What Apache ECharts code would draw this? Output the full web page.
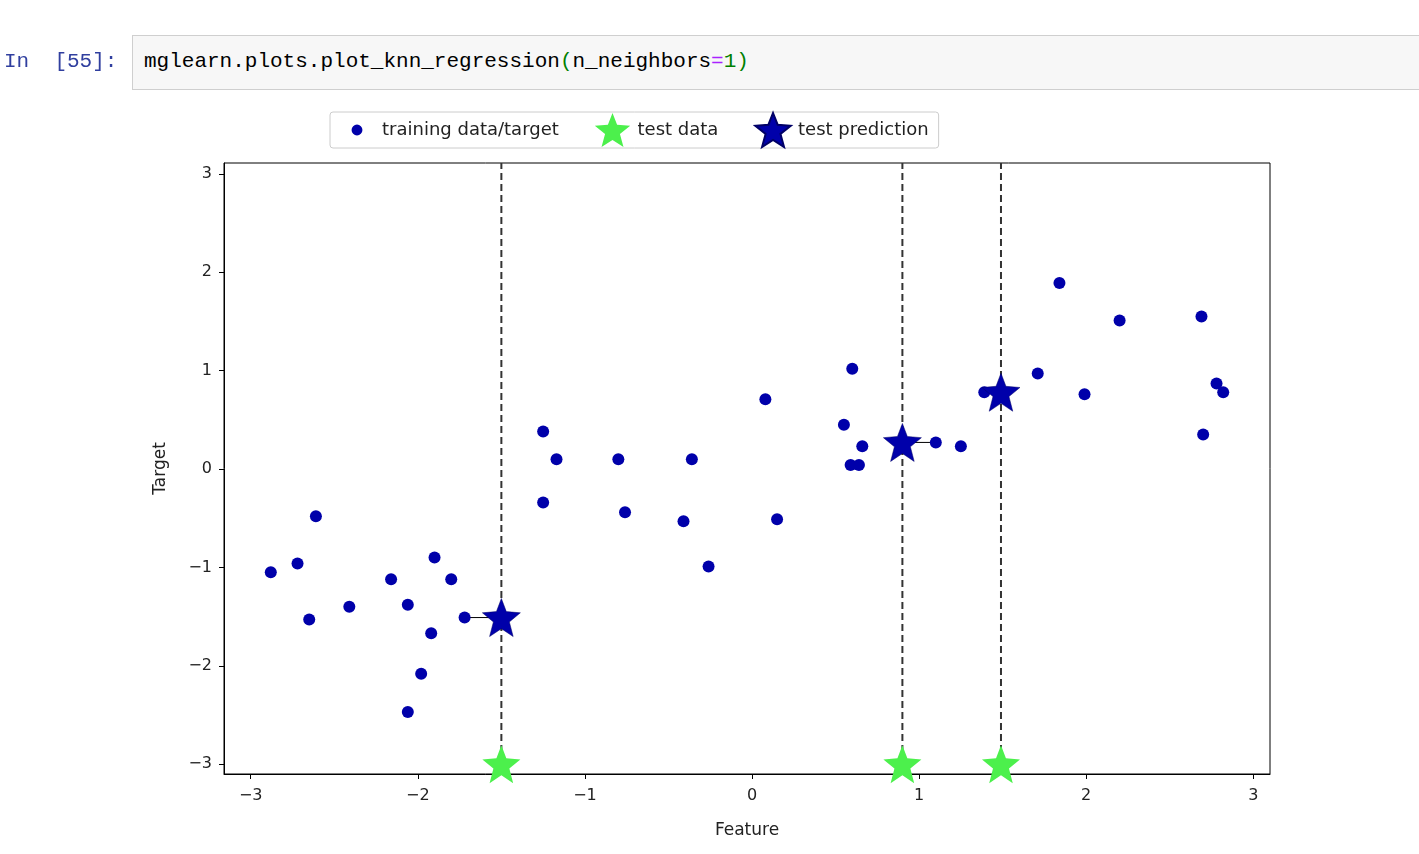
<!DOCTYPE html>
<html>
<head>
<meta charset="utf-8">
<script src="https://cdn.jsdelivr.net/npm/echarts@6/dist/echarts.min.js"></script>
<style>
  body { margin: 0; background: #fff; width: 1419px; height: 854px; overflow: hidden; position: relative; }
  #chart { position: absolute; left: 0; top: 0; width: 1419px; height: 854px; }
  .prompt { position: absolute; left: 4px; top: 50px; font: 21px "Liberation Mono", monospace; color: #303f9f; }
  .cell { position: absolute; left: 132px; top: 35px; width: 1300px; height: 55px; border: 1px solid #cfcfcf; background: #f7f7f7;
          box-sizing: border-box; font: 21px "Liberation Mono", monospace; padding: 14px 0 0 11px; color: #000; }
  .g { color: #008000; } .m { color: #aa22ff; }
</style>
</head>
<body>
<div id="chart"></div>
<div class="prompt">In&nbsp;&nbsp;[55]:</div>
<div class="cell">mglearn.plots.plot_knn_regression<span class="g">(</span>n_neighbors<span class="m">=</span><span class="g">1)</span></div>
<script>
var trainX = [-2.88,-2.72,-2.65,-2.61,-2.41,-2.16,-2.06,-2.06,-1.98,-1.92,-1.90,-1.80,-1.72,-1.25,-1.25,-1.17,-0.80,-0.76,-0.41,-0.36,-0.26,0.08,0.15,0.55,0.60,0.59,0.64,0.66,1.10,1.25,1.39,1.71,1.84,1.99,2.20,2.69,2.70,2.78,2.82];
var trainY = [-1.05,-0.96,-1.53,-0.48,-1.40,-1.12,-1.38,-2.47,-2.08,-1.67,-0.90,-1.12,-1.51,0.38,-0.34,0.10,0.10,-0.44,-0.53,0.10,-0.99,0.71,-0.51,0.45,1.02,0.04,0.04,0.23,0.27,0.23,0.78,0.97,1.89,0.76,1.51,1.55,0.35,0.87,0.78];
var testX = [-1.50, 0.90, 1.49];
var neighborX = [-1.72, 1.10, 1.39];
var predY = [-1.51, 0.27, 0.78];
var xTicks = [-3,-2,-1,0,1,2,3];

var star = 'path://M50,0 L63,33 L100,36 L71,59 L81,96 L50,76 L19,96 L29,59 L0,36 L37,33 Z';
var dot = 'path://M0,0 M100,100 M50,34 A16,16 0 1 1 50,66 A16,16 0 1 1 50,34 Z';
var minus = function (v) { return String(v).replace('-', '\u2212'); };
var series = [];
testX.forEach(function (x) {
  series.push({ type: 'line', data: [[x, -3.1], [x, 3.11]], symbol: 'none', silent: true,
    lineStyle: { color: '#333', width: 2, type: [7, 4] }, z: 1 });
});
testX.forEach(function (x, i) {
  series.push({ type: 'line', data: [[neighborX[i], predY[i]], [x, predY[i]]], symbol: 'none', silent: true,
    lineStyle: { color: '#000', width: 1 }, z: 1 });
});
series.push({ name: 'training data/target', type: 'scatter', symbol: 'circle', symbolSize: 12,
  itemStyle: { color: '#0000aa', opacity: 1 }, data: trainX.map(function (x, i) { return [x, trainY[i]]; }), z: 3 });
series.push({ name: 'test data', type: 'scatter', symbol: star, symbolSize: 38,
  itemStyle: { color: '#4cf04c', opacity: 1 }, data: testX.map(function (x) { return [x, -3]; }), z: 4 });
series.push({ name: 'test prediction', type: 'scatter', symbol: star, symbolSize: 38,
  itemStyle: { color: '#0000aa', opacity: 1, borderColor: '#000066', borderWidth: 0.5 },
  data: testX.map(function (x, i) { return [x, predY[i]]; }), z: 4 });

var chart = echarts.init(document.getElementById('chart'));
chart.setOption({
  animation: false,
  textStyle: { fontFamily: 'DejaVu Sans' },
  grid: { left: 224, right: 149, top: 163, bottom: 80 },
  legend: {
    top: 112, left: 330, itemGap: 36, itemWidth: 40, itemHeight: 34,
    borderColor: '#ccc', borderWidth: 1, borderRadius: 3, padding: [0, 10],
    textStyle: { fontSize: 18, color: '#222' },
    data: [
      { name: 'training data/target', icon: dot },
      { name: 'test data', icon: star },
      { name: 'test prediction', icon: star }
    ]
  },
  xAxis: {
    type: 'value', min: -3.16, max: 3.10, interval: 1, name: 'Feature', nameLocation: 'middle', nameGap: 48,
    nameTextStyle: { fontSize: 17, color: '#222' },
    axisLine: { onZero: false, lineStyle: { color: '#000' } },
    axisTick: { length: 5, lineStyle: { color: '#000' }, customValues: xTicks },
    axisLabel: { fontSize: 16, color: '#222', margin: 14, customValues: xTicks, formatter: minus },
    splitLine: { show: false }
  },
  yAxis: {
    type: 'value', min: -3.10, max: 3.11, name: 'Target', nameLocation: 'middle', nameGap: 55,
    nameTextStyle: { fontSize: 17, color: '#222' },
    axisLine: { show: true, onZero: false, lineStyle: { color: '#000' } },
    axisTick: { show: true, length: 5, lineStyle: { color: '#000' }, customValues: xTicks },
    axisLabel: { fontSize: 16, color: '#222', margin: 12, customValues: xTicks, formatter: minus },
    splitLine: { show: false }
  },
  series: series,
  graphic: [{ type: 'rect', shape: { x: 224, y: 163, width: 1046, height: 611 }, silent: true,
    style: { fill: 'none', stroke: '#000', lineWidth: 1 }, z: 0 }]
});
</script>
</body>
</html>
